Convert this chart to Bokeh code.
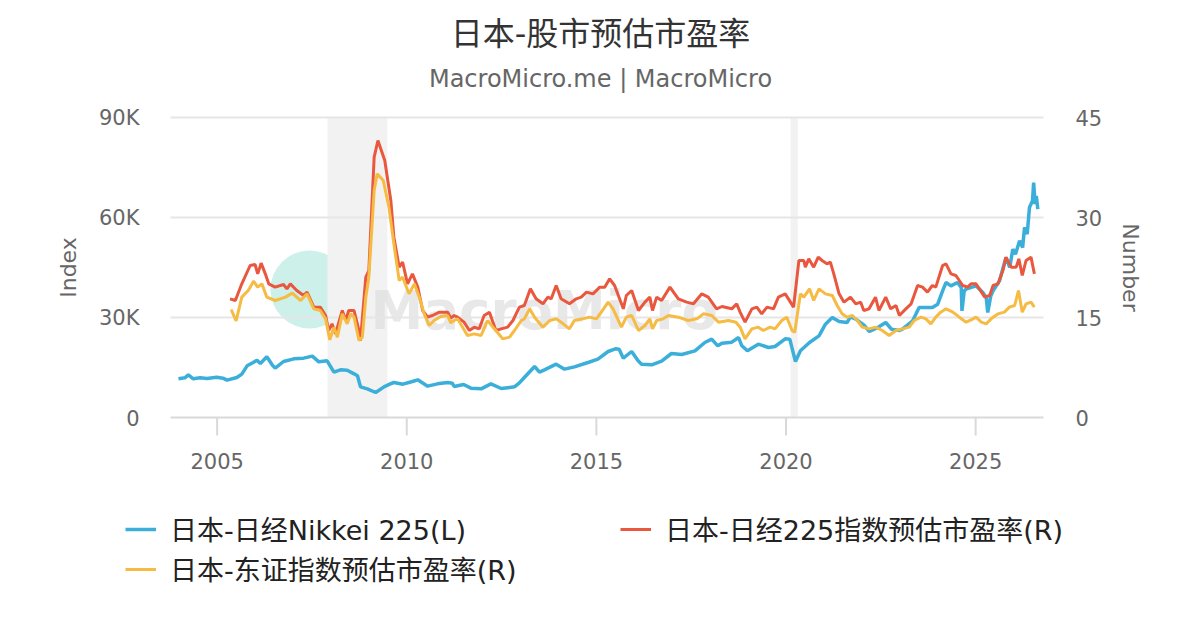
import math
from bokeh.plotting import figure
from bokeh.core.properties import value
from bokeh.models import (Range1d, BoxAnnotation, Legend, LegendItem, Label)
from bokeh.embed import file_html
from bokeh.resources import INLINE

FONT = "DejaVu Sans, Noto Sans CJK SC"

# ---------------- data (decimal years) ----------------
nikkei_t = [2003.98, 2004.15, 2004.24, 2004.37, 2004.55, 2004.73, 2004.99, 2005.15, 2005.26, 2005.52,
            2005.65, 2005.79, 2005.95, 2006.05, 2006.14, 2006.31, 2006.45, 2006.53, 2006.75, 2007.02,
            2007.28, 2007.51, 2007.68, 2007.9, 2008.08, 2008.25, 2008.43, 2008.61, 2008.7, 2008.78,
            2008.96, 2009.18, 2009.4, 2009.55, 2009.66, 2009.9, 2010.15, 2010.29, 2010.55, 2010.81,
            2011.08, 2011.2, 2011.25, 2011.5, 2011.69, 2011.96, 2012.22, 2012.49, 2012.84, 2012.97,
            2013.1, 2013.37, 2013.5, 2013.63, 2013.94, 2014.16, 2014.42, 2014.78, 2015.04, 2015.31,
            2015.5, 2015.6, 2015.71, 2015.93, 2016.1, 2016.19, 2016.46, 2016.72, 2016.98, 2017.25,
            2017.6, 2017.86, 2018.04, 2018.2, 2018.31, 2018.57, 2018.75, 2018.83, 2018.98, 2019.05,
            2019.27, 2019.54, 2019.71, 2019.98, 2020.1, 2020.2, 2020.25, 2020.38, 2020.62, 2020.87,
            2021.04, 2021.22, 2021.4, 2021.61, 2021.7, 2021.84, 2022.05, 2022.2, 2022.45, 2022.63,
            2022.78, 2022.99, 2023.07, 2023.34, 2023.51, 2023.86, 2024.0, 2024.13, 2024.22, 2024.35,
            2024.52, 2024.62, 2024.64, 2024.7, 2024.75, 2025.01, 2025.19, 2025.28, 2025.32, 2025.4,
            2025.46, 2025.63, 2025.8, 2025.9, 2025.98, 2026.05, 2026.16, 2026.24, 2026.29, 2026.36,
            2026.42, 2026.5, 2026.53, 2026.57, 2026.6, 2026.64]
nikkei_v = [11600, 11900, 12800, 11600, 11900, 11700, 12100, 11800, 11200, 12000,
            13000, 15500, 16500, 17200, 16200, 18200, 15800, 14800, 16800, 17600,
            17800, 18400, 16700, 17000, 13600, 14300, 14200, 13100, 12500, 9200,
            8600, 7500, 9200, 10000, 10500, 10000, 10800, 11300, 9400, 10100,
            10500, 10300, 9300, 9900, 8800, 8600, 10100, 8700, 9200, 10400,
            12000, 15300, 13600, 14300, 16000, 14500, 15200, 16500, 17500, 19800,
            20600, 20500, 17800, 19800, 17000, 16000, 15800, 16900, 19200, 18900,
            20000, 22500, 23500, 21500, 22300, 22600, 24000, 21600, 20000, 20500,
            22000, 21000, 21300, 23600, 23500, 19000, 16800, 20000, 22500, 24500,
            28000, 30000, 28800, 28500, 30200, 29500, 27800, 25800, 27200, 28500,
            26500, 26100, 26500, 29000, 33000, 33000, 34000, 38000, 40500, 39500,
            40500, 39000, 32000, 38000, 38500, 39500, 37500, 36000, 31500, 36500,
            38000, 41000, 48000, 45000, 50500, 49000, 53000, 51000, 57000, 55000,
            63000, 65000, 70500, 64000, 66500, 62500]

n225pe_t = [2005.34, 2005.48, 2005.65, 2005.87, 2006.0, 2006.07, 2006.16, 2006.27, 2006.36, 2006.53,
            2006.75, 2006.84, 2006.93, 2007.1, 2007.28, 2007.37, 2007.55, 2007.72, 2007.86, 2007.94,
            2008.03, 2008.12, 2008.3, 2008.39, 2008.47, 2008.61, 2008.74, 2008.78, 2008.92, 2009.0,
            2009.14, 2009.24, 2009.42, 2009.58, 2009.66, 2009.8, 2009.89, 2010.02, 2010.15, 2010.29,
            2010.42, 2010.55, 2010.68, 2010.86, 2011.08, 2011.16, 2011.25, 2011.34, 2011.51, 2011.65,
            2011.78, 2011.91, 2012.04, 2012.18, 2012.35, 2012.49, 2012.66, 2012.8, 2012.97, 2013.1,
            2013.26, 2013.41, 2013.59, 2013.72, 2013.81, 2013.94, 2014.07, 2014.29, 2014.47, 2014.6,
            2014.74, 2014.91, 2015.09, 2015.22, 2015.35, 2015.48, 2015.71, 2015.79, 2015.93, 2016.11,
            2016.28, 2016.41, 2016.48, 2016.59, 2016.72, 2016.94, 2017.16, 2017.38, 2017.56, 2017.78,
            2017.95, 2018.17, 2018.31, 2018.57, 2018.7, 2018.79, 2018.92, 2019.1, 2019.23, 2019.36,
            2019.5, 2019.67, 2019.8, 2019.98, 2020.2, 2020.34, 2020.47, 2020.51, 2020.6, 2020.73,
            2020.85, 2020.95, 2021.08, 2021.17, 2021.26, 2021.4, 2021.53, 2021.7, 2021.84, 2021.97,
            2022.05, 2022.19, 2022.36, 2022.45, 2022.63, 2022.76, 2022.9, 2022.99, 2023.16, 2023.3,
            2023.47, 2023.6, 2023.73, 2023.86, 2023.95, 2024.13, 2024.22, 2024.35, 2024.48, 2024.66,
            2024.79, 2024.88, 2025.01, 2025.1, 2025.24, 2025.37, 2025.46, 2025.59, 2025.72, 2025.8,
            2025.94, 2026.07, 2026.14, 2026.23, 2026.33, 2026.46, 2026.55]
n225pe_v = [17.8, 17.55, 20.05, 22.8, 22.95, 21.55, 23.15, 21.55, 20.05, 19.55,
            19.95, 19.3, 20.05, 19.05, 18.3, 18.8, 16.55, 16.55, 15.3, 13.05,
            14.05, 12.55, 16.05, 14.55, 16.05, 16.05, 13.05, 11.55, 21.05, 22.05,
            39.05, 41.55, 38.55, 32.55, 27.05, 22.55, 23.3, 20.05, 21.55, 19.55,
            16.05, 15.05, 15.3, 15.8, 15.8, 14.9, 15.3, 15.05, 14.3, 13.05,
            13.55, 13.3, 15.3, 15.8, 13.05, 13.3, 13.55, 14.55, 16.55, 16.8,
            19.3, 17.8, 17.05, 18.05, 17.8, 19.8, 17.8, 17.05, 17.8, 18.05,
            18.8, 18.55, 19.55, 19.55, 20.8, 19.8, 16.3, 18.3, 19.05, 16.05,
            17.3, 18.05, 16.05, 18.05, 17.55, 19.55, 17.8, 17.3, 17.05, 18.55,
            18.05, 16.3, 16.65, 16.3, 17.05, 15.8, 14.3, 16.3, 16.55, 15.55,
            16.55, 16.3, 18.05, 18.55, 16.55, 23.55, 23.55, 22.55, 23.8, 22.55,
            24.05, 23.55, 23.05, 23.3, 21.55, 18.55, 17.3, 18.05, 17.05, 17.3,
            16.05, 16.3, 18.05, 16.05, 18.05, 16.3, 16.8, 15.3, 16.3, 17.05,
            19.8, 19.55, 18.8, 19.8, 19.55, 22.8, 23.05, 21.55, 21.3, 19.8,
            19.55, 20.05, 20.05, 19.3, 18.05, 18.3, 19.8, 20.05, 22.05, 24.05,
            22.55, 22.55, 23.8, 21.3, 23.55, 24.05, 21.55]

topixpe_t = [2005.37, 2005.5, 2005.65, 2005.82, 2005.96, 2006.07, 2006.18, 2006.31, 2006.53, 2006.8,
             2006.98, 2007.2, 2007.37, 2007.55, 2007.72, 2007.86, 2007.97, 2008.08, 2008.17, 2008.3,
             2008.43, 2008.52, 2008.61, 2008.74, 2008.83, 2008.92, 2009.0, 2009.14, 2009.22, 2009.38,
             2009.53, 2009.66, 2009.8, 2009.89, 2010.06, 2010.2, 2010.33, 2010.46, 2010.59, 2010.72,
             2010.9, 2011.08, 2011.16, 2011.25, 2011.34, 2011.6, 2011.78, 2011.96, 2012.13, 2012.31,
             2012.53, 2012.71, 2012.84, 2013.02, 2013.1, 2013.24, 2013.37, 2013.59, 2013.77, 2013.94,
             2014.07, 2014.29, 2014.42, 2014.64, 2014.82, 2015.0, 2015.13, 2015.31, 2015.44, 2015.66,
             2015.79, 2015.93, 2016.11, 2016.28, 2016.41, 2016.48, 2016.59, 2016.76, 2016.9, 2017.16,
             2017.42, 2017.65, 2017.82, 2018.04, 2018.22, 2018.48, 2018.68, 2018.79, 2018.92, 2019.1,
             2019.27, 2019.4, 2019.58, 2019.71, 2019.89, 2020.02, 2020.16, 2020.23, 2020.38, 2020.47,
             2020.62, 2020.73, 2020.87, 2021.04, 2021.22, 2021.35, 2021.48, 2021.61, 2021.75, 2021.88,
             2022.01, 2022.19, 2022.36, 2022.54, 2022.72, 2022.9, 2023.07, 2023.25, 2023.38, 2023.56,
             2023.69, 2023.82, 2023.95, 2024.08, 2024.22, 2024.4, 2024.57, 2024.75, 2024.88, 2025.01,
             2025.15, 2025.28, 2025.41, 2025.59, 2025.76, 2025.89, 2026.03, 2026.13, 2026.23, 2026.33,
             2026.46, 2026.55]
topixpe_v = [16.2, 14.5, 18.05, 19.05, 20.45, 19.55, 20.05, 18.05, 17.55, 18.05,
             18.65, 17.55, 18.55, 16.3, 16.05, 14.8, 11.65, 13.55, 12.05, 15.55,
             14.05, 15.55, 15.05, 11.55, 12.05, 18.05, 21.05, 34.05, 36.55, 35.55,
             31.55, 26.05, 20.55, 21.05, 18.55, 20.05, 18.05, 15.55, 13.8, 14.55,
             15.15, 15.3, 14.2, 14.55, 14.8, 12.3, 12.55, 12.3, 14.55, 13.3,
             11.8, 12.05, 13.05, 14.55, 14.8, 16.3, 15.05, 13.55, 14.55, 14.8,
             14.3, 13.3, 14.55, 14.8, 15.05, 14.8, 15.8, 17.3, 16.3, 13.55,
             15.05, 15.3, 13.05, 13.8, 14.8, 13.3, 14.55, 14.8, 15.3, 15.05,
             14.55, 14.8, 15.55, 15.3, 14.3, 14.55, 14.3, 13.55, 11.8, 13.3,
             13.55, 13.05, 13.55, 13.3, 14.55, 15.05, 13.05, 12.8, 18.55, 18.05,
             19.3, 17.55, 19.3, 18.55, 18.3, 16.8, 15.55, 15.05, 15.3, 14.55,
             13.55, 13.3, 13.55, 13.05, 12.3, 13.05, 13.3, 13.55, 14.55, 15.05,
             14.8, 14.05, 15.05, 15.8, 16.3, 15.8, 15.05, 14.3, 14.65, 15.05,
             14.3, 14.05, 14.8, 15.55, 15.8, 16.55, 16.8, 19.05, 15.8, 17.05,
             17.3, 16.55]

recession_start = [2007.91, 2020.12]
recession_end = [2009.49, 2020.31]

x_ticks = [2005, 2010, 2015, 2020, 2025]
x_tick_labels = ["2005", "2010", "2015", "2020", "2025"]
left_ticks = [0, 30000, 60000, 90000]
left_tick_labels = ["0", "30K", "60K", "90K"]
right_ticks = [0, 15, 30, 45]
right_tick_labels = ["0", "15", "30", "45"]

series_labels = ["日本-日经Nikkei 225(L)", "日本-日经225指数预估市盈率(R)", "日本-东证指数预估市盈率(R)"]
series_colors = ["#3BAFDA", "#E9573F", "#F6BB42"]
series_widths = [3.5, 3, 3]

TITLE = "日本-股市预估市盈率"
SUBTITLE = "MacroMicro.me | MacroMicro"

# ---------------- layout constants (pixels) ----------------
W, H = 1184, 614
PLOT_L, PLOT_R, PLOT_T, PLOT_B = 170, 1043, 117, 417
XMIN, XMAX = 2003.77, 2026.79
LMAX, RMAX = 90000, 45
PX = (PLOT_R - PLOT_L) / (XMAX - XMIN)          # px per year
UL = LMAX / (PLOT_B - PLOT_T)                    # left units per px
UR = RMAX / (PLOT_B - PLOT_T)                    # right units per px


def px_x(px):
    return XMIN + (px - PLOT_L) / PX


def px_y(py):
    return (PLOT_B - py) * UL


GRAY = "#666666"

p = figure(width=W, height=H, output_backend="svg", toolbar_location=None,
           x_range=Range1d(px_x(0), px_x(W)), y_range=Range1d(px_y(H), px_y(0)),
           x_axis_location=None, y_axis_location=None, min_border=0, title=None)
p.extra_y_ranges = {"pe": Range1d((PLOT_B - H) * UR, PLOT_B * UR)}
p.outline_line_color = None
p.grid.visible = False

# titles
p.add_layout(Label(x=px_x(600), y=px_y(33), text=TITLE, text_font=FONT, text_font_size="32px",
                   text_color="#333333", text_align="center", text_baseline="middle"))
p.add_layout(Label(x=px_x(600), y=px_y(78), text=SUBTITLE, text_font=FONT, text_font_size="24px",
                   text_color=GRAY, text_align="center", text_baseline="middle"))

# recession bands
for s, e in zip(recession_start, recession_end):
    p.add_layout(BoxAnnotation(left=s, right=e, bottom=0, top=LMAX, fill_color="#f2f2f2",
                               fill_alpha=1.0, line_color=None, level="underlay"))

# horizontal grid lines (limited to the plotting area) + base line
grid_y = left_ticks[1:]
p.segment(x0=[XMIN] * len(grid_y), y0=grid_y, x1=[XMAX] * len(grid_y), y1=grid_y,
          line_color="#e6e6e6", line_width=2)
p.segment(x0=[XMIN], y0=[0], x1=[XMAX], y1=[0], line_color="#d9d9d9", line_width=2)

# x ticks and labels
TICK = 18 * UL
p.segment(x0=x_ticks, y0=[0] * len(x_ticks), x1=x_ticks, y1=[-TICK] * len(x_ticks),
          line_color="#d9d9d9", line_width=2)
p.text(x=x_ticks, y=[px_y(460)] * len(x_ticks), text=x_tick_labels, text_align="center",
       text_baseline="middle", text_font=value(FONT), text_font_size="21px", text_color=GRAY)

# y tick labels
p.text(x=[px_x(PLOT_L - 31)] * len(left_ticks), y=left_ticks, text=left_tick_labels,
       text_align="right", text_baseline="middle", text_font=value(FONT),
       text_font_size="21px", text_color=GRAY)
p.text(x=[px_x(PLOT_R + 32)] * len(right_ticks), y=right_ticks, text=right_tick_labels,
       text_align="left", text_baseline="middle", text_font=value(FONT),
       text_font_size="21px", text_color=GRAY, y_range_name="pe")
p.add_layout(Label(x=px_x(68), y=LMAX / 2, text="Index", angle=math.pi / 2,
                   text_align="center", text_baseline="middle", text_font=FONT,
                   text_font_size="22px", text_color=GRAY))
p.add_layout(Label(x=px_x(1130), y=LMAX / 2, text="Number", angle=-math.pi / 2,
                   text_align="center", text_baseline="middle", text_font=FONT,
                   text_font_size="22px", text_color=GRAY))

# watermark
wm = p.scatter(x=[px_x(309)], y=[px_y(289)], size=78, fill_color="#c8f0e8", line_color=None,
               fill_alpha=0.9)
wm.level = "underlay"
p.add_layout(Label(x=px_x(370), y=px_y(310), text="MacroMicro", text_font=FONT,
                   text_font_size="53px", text_font_style="bold", text_color="#dedede",
                   text_alpha=0.7, text_baseline="alphabetic", level="underlay"))

# series
r1 = p.line(nikkei_t, nikkei_v, color=series_colors[0], line_width=series_widths[0])
r2 = p.line(n225pe_t, n225pe_v, color=series_colors[1], line_width=series_widths[1],
            y_range_name="pe")
r3 = p.line(topixpe_t, topixpe_v, color=series_colors[2], line_width=series_widths[2],
            y_range_name="pe")

# legend (inside the canvas-wide frame)
legend = Legend(items=[LegendItem(label=series_labels[0], renderers=[r1]),
                       LegendItem(label=series_labels[1], renderers=[r2]),
                       LegendItem(label=series_labels[2], renderers=[r3])],
                orientation="horizontal", ncols=2, location=(125, 26),
                padding=0, margin=0, border_line_color=None, background_fill_alpha=0,
                glyph_width=31, glyph_height=20, label_standoff=14, label_width=449,
                spacing=1, label_text_font_size="27px", label_text_color="#222222",
                label_text_font=FONT)
p.add_layout(legend, "center")

open("out.html", "w").write(file_html(p, INLINE))
